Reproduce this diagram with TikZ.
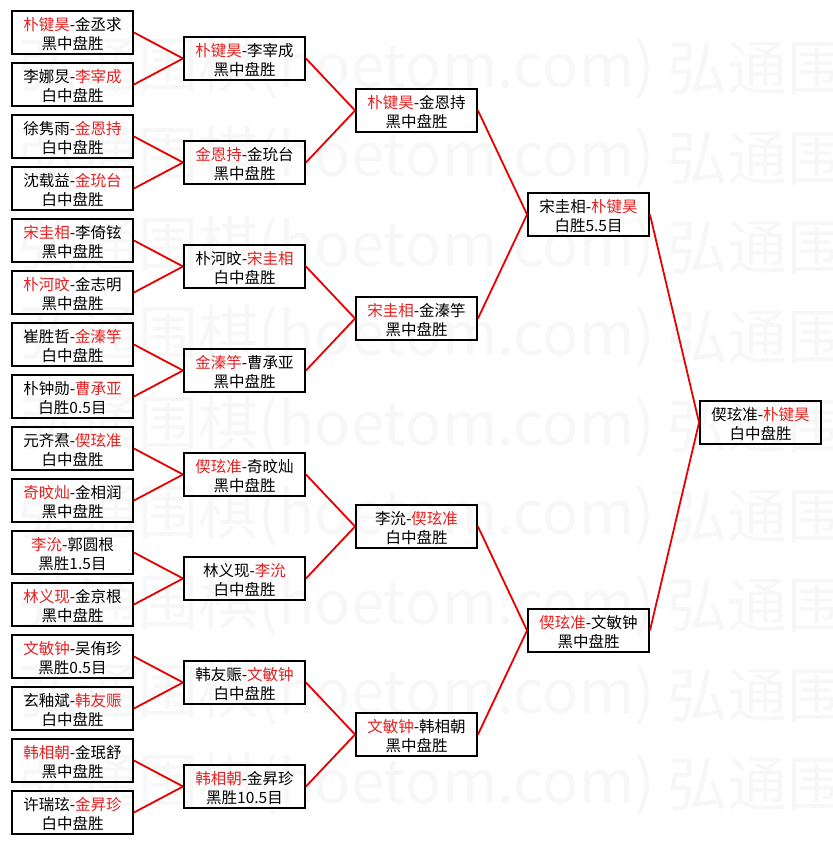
\documentclass[tikz,border=0pt]{standalone}
\usepackage{fontspec}
\setmainfont{Noto Sans CJK SC}
\usepackage{xcolor}
\usepackage{tikz}
\usetikzlibrary{shapes}
\definecolor{winred}{RGB}{228,32,32}
\definecolor{linkred}{RGB}{232,0,0}
\newcommand{\boxw}{121pt}
\newcommand{\boxh}{43pt}
\newcommand{\win}[1]{\textcolor{winred}{#1}}

\begin{document}
\begin{tikzpicture}[x=1pt,y=-1pt]
    %\draw[help lines] (0,0) grid (832,845);
    \tikzset{game/.style = {draw, line width=1.9pt, align=center, minimum width=\boxw, minimum height=\boxh, inner sep=0pt, text height=36pt, text depth=2pt, font=\fontsize{15.5pt}{19pt}\selectfont}}
    \tikzset{link/.style = {draw=linkred, line width=1.8pt}}
    \tikzset{wmark/.style = {text=black!3, inner sep=0pt, font=\fontsize{60pt}{60pt}\selectfont}}
    \useasboundingbox (0,0) rectangle (832,845);

    % watermark
    \foreach \r in {0,...,8}{
        \node[wmark, anchor=east] (wl\r) at (655,{68+89.5*\r}) {弘通围棋(hoetom.com)};
        \node[wmark, anchor=west] (wr\r) at (667,{68+89.5*\r}) {弘通围棋};
    }

    % first round
    \node[game] (a1) at (72.5,32.5) {\win{朴键昊}-金丞求\\黑中盘胜};
    \node[game] (a2) at (72.5,84.5) {李娜炅-\win{李宰成}\\白中盘胜};
    \node[game] (a3) at (72.5,136.5) {徐隽雨-\win{金恩持}\\白中盘胜};
    \node[game] (a4) at (72.5,188.5) {沈载益-\win{金玧台}\\白中盘胜};
    \node[game] (a5) at (72.5,240.5) {\win{宋圭相}-李倚铉\\黑中盘胜};
    \node[game] (a6) at (72.5,292.5) {\win{朴河旼}-金志明\\黑中盘胜};
    \node[game] (a7) at (72.5,344.5) {崔胜哲-\win{金溱竽}\\白中盘胜};
    \node[game] (a8) at (72.5,396.5) {朴钟勋-\win{曹承亚}\\白胜0.5目};
    \node[game] (a9) at (72.5,448.5) {元齐焄-\win{偰玹准}\\白中盘胜};
    \node[game] (a10) at (72.5,500.5) {\win{奇旼灿}-金相润\\黑中盘胜};
    \node[game] (a11) at (72.5,552.5) {\win{李沇}-郭圆根\\黑胜1.5目};
    \node[game] (a12) at (72.5,604.5) {\win{林义现}-金京根\\黑中盘胜};
    \node[game] (a13) at (72.5,656.5) {\win{文敏钟}-吴侑珍\\黑胜0.5目};
    \node[game] (a14) at (72.5,708.5) {玄釉斌-\win{韩友赈}\\白中盘胜};
    \node[game] (a15) at (72.5,760.5) {\win{韩相朝}-金珉舒\\黑中盘胜};
    \node[game] (a16) at (72.5,812.5) {许瑞玹-\win{金昇珍}\\白中盘胜};

    % second round
    \node[game] (b1) at (244.5,58.5) {\win{朴键昊}-李宰成\\黑中盘胜};
    \node[game] (b2) at (244.5,162.5) {\win{金恩持}-金玧台\\黑中盘胜};
    \node[game] (b3) at (244.5,266.5) {朴河旼-\win{宋圭相}\\白中盘胜};
    \node[game] (b4) at (244.5,370.5) {\win{金溱竽}-曹承亚\\黑中盘胜};
    \node[game] (b5) at (244.5,474.5) {\win{偰玹准}-奇旼灿\\黑中盘胜};
    \node[game] (b6) at (244.5,578.5) {林义现-\win{李沇}\\白中盘胜};
    \node[game] (b7) at (244.5,682.5) {韩友赈-\win{文敏钟}\\白中盘胜};
    \node[game] (b8) at (244.5,786.5) {\win{韩相朝}-金昇珍\\黑胜10.5目};

    % quarter finals
    \node[game] (c1) at (416.5,110.5) {\win{朴键昊}-金恩持\\黑中盘胜};
    \node[game] (c2) at (416.5,318.5) {\win{宋圭相}-金溱竽\\黑中盘胜};
    \node[game] (c3) at (416.5,526.5) {李沇-\win{偰玹准}\\白中盘胜};
    \node[game] (c4) at (416.5,734.5) {\win{文敏钟}-韩相朝\\黑中盘胜};

    % semi finals
    \node[game] (d1) at (588.5,214.5) {宋圭相-\win{朴键昊}\\白胜5.5目};
    \node[game] (d2) at (588.5,630.5) {\win{偰玹准}-文敏钟\\黑中盘胜};

    % final
    \node[game] (e1) at (760.5,422.5) {偰玹准-\win{朴键昊}\\白中盘胜};

    \draw[link] (a1.east) -- (b1.west);
    \draw[link] (a2.east) -- (b1.west);
    \draw[link] (a3.east) -- (b2.west);
    \draw[link] (a4.east) -- (b2.west);
    \draw[link] (a5.east) -- (b3.west);
    \draw[link] (a6.east) -- (b3.west);
    \draw[link] (a7.east) -- (b4.west);
    \draw[link] (a8.east) -- (b4.west);
    \draw[link] (a9.east) -- (b5.west);
    \draw[link] (a10.east) -- (b5.west);
    \draw[link] (a11.east) -- (b6.west);
    \draw[link] (a12.east) -- (b6.west);
    \draw[link] (a13.east) -- (b7.west);
    \draw[link] (a14.east) -- (b7.west);
    \draw[link] (a15.east) -- (b8.west);
    \draw[link] (a16.east) -- (b8.west);

    \draw[link] (b1.east) -- (c1.west);
    \draw[link] (b2.east) -- (c1.west);
    \draw[link] (b3.east) -- (c2.west);
    \draw[link] (b4.east) -- (c2.west);
    \draw[link] (b5.east) -- (c3.west);
    \draw[link] (b6.east) -- (c3.west);
    \draw[link] (b7.east) -- (c4.west);
    \draw[link] (b8.east) -- (c4.west);

    \draw[link] (c1.east) -- (d1.west);
    \draw[link] (c2.east) -- (d1.west);
    \draw[link] (c3.east) -- (d2.west);
    \draw[link] (c4.east) -- (d2.west);

    \draw[link] (d1.east) -- (e1.west);
    \draw[link] (d2.east) -- (e1.west);
\end{tikzpicture}
\end{document}
